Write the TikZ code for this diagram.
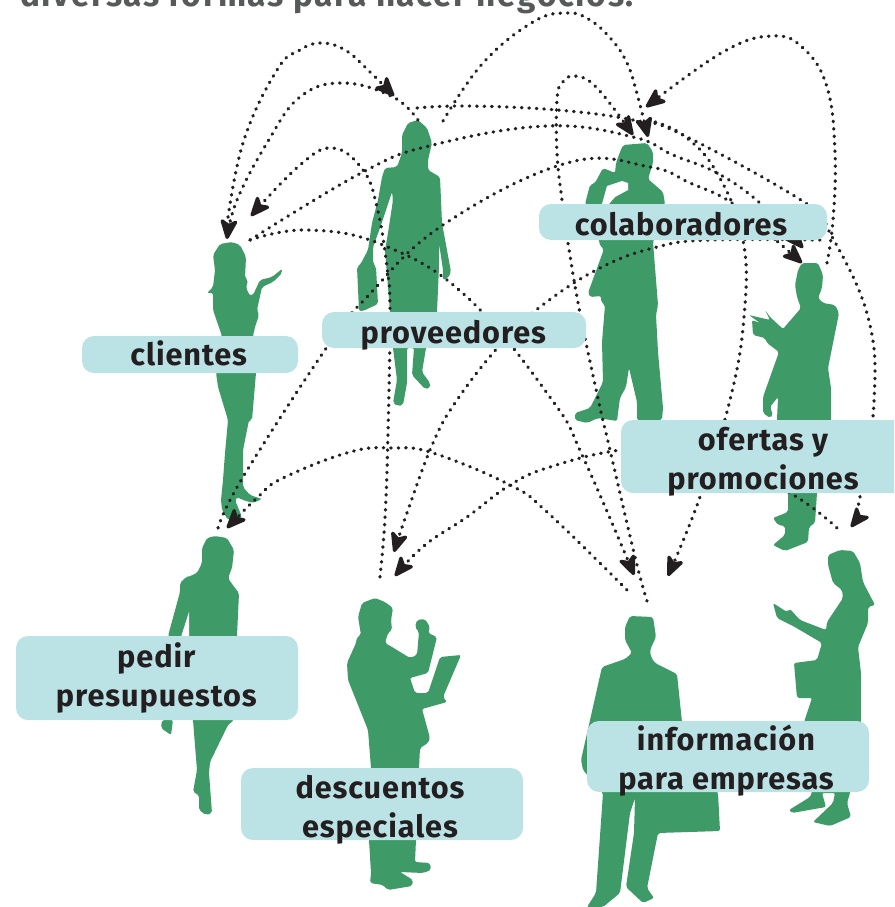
\documentclass[tikz,border=0pt]{standalone}
\usepackage{fontspec}
\setmainfont{Fira Sans}[BoldFont={Fira Sans Bold}]
\newfontfamily\labfont{Fira Sans}[BoldFont={Fira Sans Bold},LetterSpace=3]
\newfontfamily\headfont{Fira Sans}[BoldFont={Fira Sans Bold},LetterSpace=5]
\usetikzlibrary{arrows.meta}
\definecolor{fig}{HTML}{3E9B68}
\definecolor{labbg}{HTML}{BBE3E6}
\definecolor{ink}{HTML}{231F20}
\definecolor{headgray}{HTML}{58595B}
\newcommand{\oneline}[3]{\raisebox{#1}[0pt][0pt]{\hbox to 0pt{\hss #3\hss\kern#2}}}
\newcommand{\twolines}[4]{\raisebox{#1}[0pt][0pt]{\vbox{\baselineskip=29.25pt \hbox to 0pt{\hss #3\hss\kern#2}\hbox to 0pt{\hss #4\hss\kern#2}}}}
\tikzset{
  person/.style={fill=fig,rounded corners=1.5pt},
  lab/.style={fill=labbg,rounded corners=9pt,inner sep=0pt,text=ink,font=\labfont\fontsize{23}{29}\selectfont\bfseries},
  link/.style={draw=ink,line width=2.5pt,line cap=round,dash pattern=on 0.4pt off 5.2pt},
  linkhead/.style={link,-{Stealth[length=18pt,width=15pt,inset=4.5pt,round=false]}},
}
\begin{document}
\begin{tikzpicture}[x=0.75pt,y=-0.75pt]
\useasboundingbox (0,0) rectangle (894,907);
\clip (0,0) rectangle (894,907);
% silhouettes
\fill[person] (232,242)--(220,244)--(213,255)--(215,270)--(213,287)--(207,293)--(213,293)--(213,310)--(222,336)--(216,373)--(218,387)--(228,420)--(225,453)--(223,480)--(221,500)--(222,510)--(228,520)--(242,517)--(235,500)--(237,497)--(243,500)--(253,503)--(262,499)--(250,495)--(243,487)--(243,450)--(249,420)--(252,420)--(256,373)--(253,336)--(255,327)--(259,315)--(257,310)--(262,287)--(273,282)--(282,273)--(282,269)--(272,277)--(260,280)--(253,295)--(250,296)--(246,288)--(248,280)--(245,278)--(246,257)--(240,245)--cycle;
\fill[person] (418,120)--(408,123)--(402,135)--(402,153)--(397,167)--(385,168)--(382,177)--(378,200)--(372,223)--(368,250)--(360,265)--(357,267)--(359,311)--(363,311)--(378,304)--(376,267)--(373,263)--(373,247)--(380,228)--(392,192)--(393,200)--(388,233)--(385,250)--(390,312)--(393,348)--(397,380)--(393,403)--(398,406)--(403,405)--(407,383)--(407,348)--(414,348)--(412,375)--(425,389)--(430,388)--(430,383)--(422,372)--(426,348)--(437,312)--(439,267)--(439,243)--(443,270)--(443,280)--(448,278)--(451,272)--(442,223)--(440,177)--(428,170)--(428,160)--(432,143)--(427,128)--cycle;
\fill[person] (623,145)--(647,143)--(653,152)--(653,163)--(648,179)--(663,192)--(665,204)--(653,242)--(658,305)--(656,315)--(658,352)--(663,408)--(662,420)--(637,420)--(637,402)--(629,368)--(626,387)--(620,398)--(618,413)--(617,421)--(598,418)--(587,423)--(575,420)--(575,413)--(590,408)--(603,382)--(602,342)--(605,305)--(601,302)--(601,296)--(590,297)--(588,293)--(604,249)--(600,246)--(599,240)--(585,204)--(590,185)--(595,183)--(603,168)--(615,173)--(616,163)--(620,152)--cycle;
\fill[white] (607,186)--(622,181)--(628,183)--(628,190)--(615,197)--(609,204)--(602,204)--cycle;
\fill[person] (802,263)--(818,263)--(823,275)--(822,288)--(818,298)--(823,303)--(835,305)--(839,313)--(828,368)--(831,388)--(831,420)--(817,493)--(815,523)--(809,527)--(808,542)--(785,551)--(773,545)--(785,535)--(785,526)--(778,525)--(773,518)--(788,512)--(788,493)--(777,420)--(778,397)--(770,407)--(773,415)--(770,418)--(763,413)--(763,397)--(779,352)--(767,343)--(765,338)--(753,335)--(752,320)--(760,323)--(749,315)--(770,320)--(765,310)--(770,317)--(783,329)--(801,308)--(797,297)--(795,285)--(798,270)--cycle;
\fill[person] (840,550)--(853,551)--(860,563)--(863,582)--(875,605)--(868,607)--(868,623)--(858,647)--(861,673)--(861,722)--(850,793)--(847,803)--(851,817)--(830,826)--(813,822)--(833,803)--(835,793)--(822,793)--(826,807)--(792,813)--(789,810)--(810,797)--(812,793)--(804,722)--(812,698)--(797,698)--(794,663)--(817,660)--(822,643)--(793,626)--(777,618)--(773,603)--(787,612)--(790,609)--(800,620)--(826,630)--(827,622)--(843,598)--(842,590)--(833,583)--(828,565)--(828,555)--cycle;
\fill[person] (630,616)--(653,617)--(656,637)--(650,650)--(651,657)--(655,663)--(677,674)--(682,722)--(718,793)--(720,831)--(658,833)--(647,888)--(654,898)--(643,903)--(626,887)--(634,833)--(635,798)--(630,813)--(620,893)--(603,907)--(587,907)--(596,893)--(603,793)--(583,770)--(581,760)--(602,667)--(625,659)--(632,653)--(625,640)--(625,627)--cycle;
\fill[person] (215,536)--(227,538)--(234,550)--(232,568)--(228,578)--(232,584)--(239,593)--(237,636)--(234,720)--(228,725)--(210,762)--(209,773)--(212,813)--(206,815)--(199,810)--(199,795)--(193,792)--(197,770)--(194,733)--(193,720)--(168,636)--(180,592)--(180,583)--(186,577)--(188,577)--(197,573)--(202,563)--(202,548)--(207,538)--cycle;
\fill[white] (181,637)--(189,612)--(189,637)--cycle;
\fill[person] (173,720)--(171,735)--(161,728)--(162,720)--cycle;
\fill[person] (375,598)--(385,602)--(393,608)--(391,620)--(392,630)--(388,633)--(385,643)--(392,647)--(410,658)--(417,655)--(419,632)--(415,627)--(417,620)--(425,619)--(430,627)--(428,633)--(437,637)--(428,673)--(410,678)--(415,693)--(428,693)--(440,657)--(461,655)--(443,697)--(447,702)--(422,709)--(430,738)--(428,743)--(420,748)--(419,768)--(416,840)--(415,862)--(430,863)--(431,870)--(423,873)--(400,872)--(413,880)--(412,886)--(388,890)--(383,885)--(370,883)--(371,873)--(369,840)--(371,768)--(368,730)--(348,680)--(347,663)--(356,643)--(357,637)--(361,635)--(358,617)--(362,603)--cycle;
% free ends of the connectors
\coordinate (provTopA) at (418,120);
\coordinate (provTopB) at (417,108);
\coordinate (provTopC) at (443,121);
\coordinate (cliA) at (226,232);
\coordinate (cliTip) at (227,239);
\coordinate (cliTipB) at (251,216);
\coordinate (cliB) at (250,240);
\coordinate (provTip) at (394,96);
\coordinate (colTipA) at (633,135);
\coordinate (colTipB) at (648,137);
\coordinate (colTipC) at (646,107);
\coordinate (ofeTipA) at (803,248);
\coordinate (ofeTipB) at (802,263);
\coordinate (ofeTop) at (827,263);
\coordinate (womanTip) at (851,527);
\coordinate (womanEnd) at (837,528);
\coordinate (pedEnd) at (218,528);
\coordinate (pedTip) at (227,528);
\coordinate (desEnd) at (380,577);
\coordinate (desTipA) at (394,552);
\coordinate (desTipB) at (395,576);
\coordinate (infEndA) at (627,590);
\coordinate (infEndB) at (647,601);
\coordinate (infTipA) at (634,575);
\coordinate (infTipB) at (668,576);
\coordinate (colUp) at (648,120);
\coordinate (colRight) at (820,240);
% connectors
\draw[linkhead] (provTopA) plot[smooth,tension=.7] coordinates {(provTopA) (393,97) (343,83) (300,97) (267,143) (237,200) (cliTip)};
\draw[linkhead] (cliA) plot[smooth,tension=.7] coordinates {(cliA) (243,143) (277,70) (300,50) (321,43) (345,50) (368,70) (provTip)};
\draw[linkhead] (desEnd) plot[smooth,tension=.7] coordinates {(desEnd) (385,518) (388,433) (390,313) (387,267) (377,207) (363,170) (333,148) (300,165) (cliTipB)};
\draw[linkhead] (cliB) plot[smooth,tension=.7] coordinates {(cliB) (363,172) (433,145) (547,126) (633,137) (673,155) (717,173) (760,203) (ofeTipA)};
\draw[linkhead] (pedEnd) plot[smooth,tension=.7] coordinates {(pedEnd) (243,477) (327,347) (367,297) (443,225) (567,163) (650,167) (690,183) (732,203) (778,242) (ofeTipB)};
\draw[linkhead] (cliB) plot[smooth,tension=.7] coordinates {(cliB) (307,230) (383,245) (467,297) (552,400) (583,457) (infTipA)};
\draw[linkhead] (infEndB) plot[smooth,tension=.7] coordinates {(infEndB) (635,557) (610,450) (599,403) (580,313) (568,243) (562,200) (557,153) (557,100) (562,83) (575,76) (597,88) (colTipA)};
\draw[linkhead] (provTopC) plot[smooth,tension=.7] coordinates {(provTopC) (483,63) (533,22) (567,13) (590,20) (612,40) (627,63) (636,90) (colTipB)};
\draw[linkhead] (ofeTop) plot[smooth,tension=.7] coordinates {(ofeTop) (833,220) (835,153) (827,87) (803,48) (772,36) (723,52) (colTipC)};
\draw[linkhead] (provTopB) plot[smooth,tension=.7] coordinates {(provTopB) (467,106) (557,110) (633,120) (683,135) (807,204) (830,233) (868,317) (874,402) (860,497) (womanTip)};
\draw[linkhead] (colUp) plot[smooth,tension=.7] coordinates {(colUp) (683,135) (717,173) (743,240) (744,317) (730,400) (700,497) (infTipB)};
\draw[linkhead] (womanEnd) plot[smooth,tension=.7] coordinates {(womanEnd) (792,494) (700,445) (620,450) (550,467) (510,485) (467,517) (425,545) (desTipB)};
\draw[linkhead] (colRight) plot[smooth,tension=.7] coordinates {(colRight) (710,240) (657,247) (600,268) (540,307) (500,345) (457,400) (433,443) (408,510) (desTipA)};
\draw[linkhead] (infEndA) plot[smooth,tension=.7] coordinates {(infEndA) (547,512) (510,485) (433,453) (393,448) (350,452) (283,478) (258,497) (pedTip)};
% labels
\node[lab,minimum width=216pt,minimum height=27pt] (colaboradores) at (683,222) {\oneline{-9.75pt}{3pt}{colaboradores}};
\node[lab,minimum width=198pt,minimum height=27pt] (proveedores) at (454,330) {\oneline{-9.75pt}{1pt}{proveedores}};
\node[lab,minimum width=162pt,minimum height=27.75pt] (clientes) at (190,354.5) {\oneline{-8.6pt}{2pt}{clientes}};
\node[lab,minimum width=213pt,minimum height=54.75pt] (ofertas) at (763,456.5) {\twolines{-24.4pt}{0pt}{ofertas y}{promociones}};
\node[lab,minimum width=211.5pt,minimum height=63pt] (pedir) at (157,678) {\twolines{-21pt}{1pt}{pedir}{presupuestos}};
\node[lab,minimum width=211.5pt,minimum height=54pt] (descuentos) at (382,804) {\twolines{-24.75pt}{3pt}{descuentos}{especiales}};
\node[lab,minimum width=211.5pt,minimum height=53.25pt] (informacion) at (728,756.5) {\twolines{-25.1pt}{3pt}{información}{para empresas}};
% heading, cut by the top edge
\node[anchor=base,inner sep=0pt,text=headgray,font=\headfont\fontsize{25}{29}\selectfont\bfseries] (heading) at (327,6) {diversas formas para hacer negocios.};
\end{tikzpicture}
\end{document}
